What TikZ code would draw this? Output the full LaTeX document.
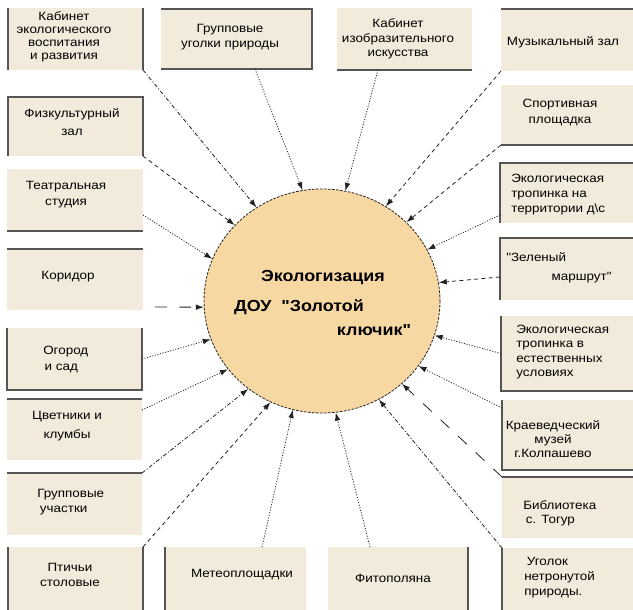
\documentclass[tikz,border=0pt]{standalone}
\usepackage{fontspec}
\setmainfont{Liberation Sans}[FakeStretch=1.12]
\newfontfamily\lfont{Liberation Sans}[FakeStretch=1.12]
\usetikzlibrary{arrows.meta,shapes.geometric,fit}
\definecolor{boxfill}{RGB}{242,235,220}
\definecolor{circfill}{RGB}{248,216,162}
\definecolor{edgecol}{RGB}{85,85,85}
\definecolor{linecol}{RGB}{35,35,35}
\begin{document}
\begin{tikzpicture}[x=0.75pt,y=-0.75pt,
  cbox/.style={fill=boxfill, draw=none, inner sep=0pt, outer sep=0pt},
  lbl/.style={font=\lfont\fontsize{9}{11.25}\selectfont, inner sep=0pt, align=center},
  bedge/.style={draw=edgecol, line width=0.8pt},
  conn/.style={draw=linecol, line width=0.6pt, -{Latex[length=6pt,width=4.2pt]}},
  dotl/.style={conn, dash pattern=on 0.8pt off 1.2pt},
  dashl/.style={conn, dash pattern=on 3pt off 2.5pt},
  dashdotl/.style={conn, dash pattern=on 3pt off 1.5pt on 0.8pt off 1.5pt},
  longdashl/.style={conn, dash pattern=on 9pt off 9pt},
  ctext/.style={font=\lfont\fontsize{12}{14}\selectfont\bfseries, inner sep=0pt}
]
\fill[white] (0,0) rectangle (633,610);
\useasboundingbox (0,0) rectangle (633,610);

% central circle
\node[ellipse, fill=circfill, draw=linecol, line width=0.6pt, dash pattern=on 2pt off 1pt,
      minimum width=177pt, minimum height=168pt, inner sep=0pt] (c) at (322,301) {};
\node[ctext] (ct1) at (323,278) {Экологизация};
\node[ctext] (ct2) at (299,307) {ДОУ\ \ "Золотой};
\node[ctext] (ct3) at (374,330) {ключик"};

% boxes
\node[cbox, fit={(8,8) (143,70)}] (b1) {};
\node[cbox, fit={(161,9) (312,69)}] (b2) {};
\node[cbox, fit={(337,8) (472,70)}] (b3) {};
\node[cbox, fit={(501,9) (633,71)}] (b4) {};
\node[cbox, fit={(501,85) (633,145)}] (b5) {};
\node[cbox, fit={(8,97) (143,156)}] (b6) {};
\node[cbox, fit={(7,169) (143,231)}] (b7) {};
\node[cbox, fit={(500,163) (633,223)}] (b8) {};
\node[cbox, fit={(500,238) (633,300)}] (b9) {};
\node[cbox, fit={(7,249) (143,310)}] (b10) {};
\node[cbox, fit={(7,328) (142,390)}] (b11) {};
\node[cbox, fit={(7,399) (142,460)}] (b12) {};
\node[cbox, fit={(7,473) (142,535)}] (b13) {};
\node[cbox, fit={(8,547) (143,610)}] (b14) {};
\node[cbox, fit={(165,547) (306,610)}] (b15) {};
\node[cbox, fit={(328,547) (468,610)}] (b16) {};
\node[cbox, fit={(502,548) (633,610)}] (b17) {};
\node[cbox, fit={(501,316) (633,391)}] (b18) {};
\node[cbox, fit={(502,400) (633,470)}] (b19) {};
\node[cbox, fit={(502,477) (633,538)}] (b20) {};

% box edges
\draw[bedge] (b1.north west) -- (b1.south west);
\draw[bedge] (b1.north east) -- (b1.south east);
\draw[bedge] (b2.north west) -- (b2.north east) -- (b2.south east) -- (b2.south west);
\draw[bedge] (b3.south west) -- (b3.south east);
\draw[bedge] (b4.north west) -- (b4.north east);
\draw[bedge] (b5.south west) -- (b5.south east);
\draw[bedge] (b6.south west) -- (b6.north west) -- (b6.north east) -- (b6.south east);
\draw[bedge] (b7.south west) -- (b7.south east);
\draw[bedge] (b8.south west) -- (b8.north west) -- (b8.north east);
\draw[bedge] (b9.south west) -- (b9.north west) -- (b9.north east);
\draw[bedge] (b10.north west) -- (b10.north east);
\draw[bedge] (b11.north west) -- (b11.south west) -- (b11.south east) -- (b11.north east);
\draw[bedge] (b12.north west) -- (b12.north east);
\draw[bedge] (b13.north west) -- (b13.north east);
\draw[bedge] (b14.south west) -- (b14.north west);
\draw[bedge] (b14.north east) -- (b14.south east);
\draw[bedge] (b15.north west) -- (b15.south west);
\draw[bedge] (b16.north east) -- (b16.south east);
\draw[bedge] (b17.north west) -- (b17.south west);
\draw[bedge] (b18.north west) -- (b18.south west) -- (b18.south east);
\draw[bedge] (b19.north west) -- (b19.south west) -- (b19.south east);
\draw[bedge] (b20.north west) -- (b20.north east);

% box texts
\node[lbl, font=\lfont\fontsize{9}{9.75}\selectfont] (t1) at (64,37) {Кабинет\\экологического\\воспитания\\и развития};
\node[lbl] (t2) at (230,37) {Групповые\\уголки природы};
\node[lbl, font=\lfont\fontsize{9}{10.9}\selectfont] (t3) at (398,39) {Кабинет\\изобразительного\\искусства};
\node[lbl] (t4) at (563,42) {Музыкальный зал};
\node[lbl, font=\lfont\fontsize{9}{12}\selectfont] (t5) at (560,113) {Спортивная\\площадка};
\node[lbl, font=\lfont\fontsize{9}{13.5}\selectfont] (t6) at (72,122) {Физкультурный\\зал};
\node[lbl, font=\lfont\fontsize{9}{12}\selectfont] (t7) at (66,195) {Театральная\\студия};
\node[lbl, align=left, anchor=west] (t8) at (511,195) {Экологическая\\тропинка на\\территории д\textbackslash с};
\node[lbl, align=left, anchor=west, font=\lfont\fontsize{9}{14.25}\selectfont] (t9) at (506,268) {"Зеленый\\\hspace*{34pt}маршрут"};
\node[lbl] (t10) at (68,277) {Коридор};
\node[lbl, align=left, anchor=west, font=\lfont\fontsize{9}{12}\selectfont] (t11) at (43,360) {Огород\\\hspace*{1pt}и сад};
\node[lbl, font=\lfont\fontsize{9}{14.25}\selectfont] (t12) at (67,426) {Цветники и\\клумбы};
\node[lbl, align=left, anchor=west] (t13) at (37,502) {Групповые\\\hspace*{2pt}участки};
\node[lbl] (t14) at (70,575) {Птичьи\\столовые};
\node[lbl] (t15) at (242,575) {Метеоплощадки};
\node[lbl] (t16) at (393,578) {Фитополяна};
\node[lbl, align=left, anchor=west] (t17) at (524,578) {\hspace*{2pt}Уголок\\нетронутой\\природы.};
\node[lbl, align=left, anchor=west, font=\lfont\fontsize{9}{10.9}\selectfont] (t18) at (516,352) {Экологическая\\тропинка в\\естественных\\условиях};
\node[lbl, font=\lfont\fontsize{9}{10.5}\selectfont] (t19) at (553,439) {Краеведческий\\музей\\г.Колпашево};
\node[lbl, align=left, anchor=west, font=\lfont\fontsize{9}{10.5}\selectfont] (t20) at (523,513) {Библиотека\\\hspace*{2pt}с. Тогур};

% connectors
\coordinate (k1) at (155,307);
\draw[dashdotl] (b1.south east) -- (c.125.2);
\draw[dotl] ([xshift=13.9pt]b2.south) -- (c.100.7);
\draw[dotl] ([xshift=-19.9pt]b3.south) -- (c.78.5);
\draw[dashl] (b4.south west) -- (c.56.7);
\draw[dashl] (b5.south west) -- (c.43);
\draw[dashl] (b6.south east) -- (c.139.7);
\draw[dotl] ([yshift=-11.25pt]b7.east) -- (c.159.5);
\draw[longdashl] (k1) -- (c.183);
\draw[dotl] (b11.east) -- (c.199.8);
\draw[dotl] ([yshift=14.6pt]b12.east) -- (c.216.7);
\draw[dashdotl] (b13.north east) -- (c.230.9);
\draw[dashl] (b14.north east) -- (c.243.4);
\draw[dotl] ([xshift=19.9pt]b15.north) -- (c.255);
\draw[dotl] ([xshift=-21pt]b16.north) -- (c.277.5);
\draw[dashdotl] (b17.north west) -- (c.300.5);
\draw[longdashl] (b20.north west) -- (c.314.7);
\draw[dotl] ([yshift=-6pt]b19.north west) -- (c.326.9);
\draw[dotl] (b18.west) -- (c.343.6);
\draw[dashl] ([yshift=-6pt]b9.west) -- (c.9.1);
\draw[dotl] ([yshift=6pt]b8.south west) -- (c.26.6);
\end{tikzpicture}
\end{document}
